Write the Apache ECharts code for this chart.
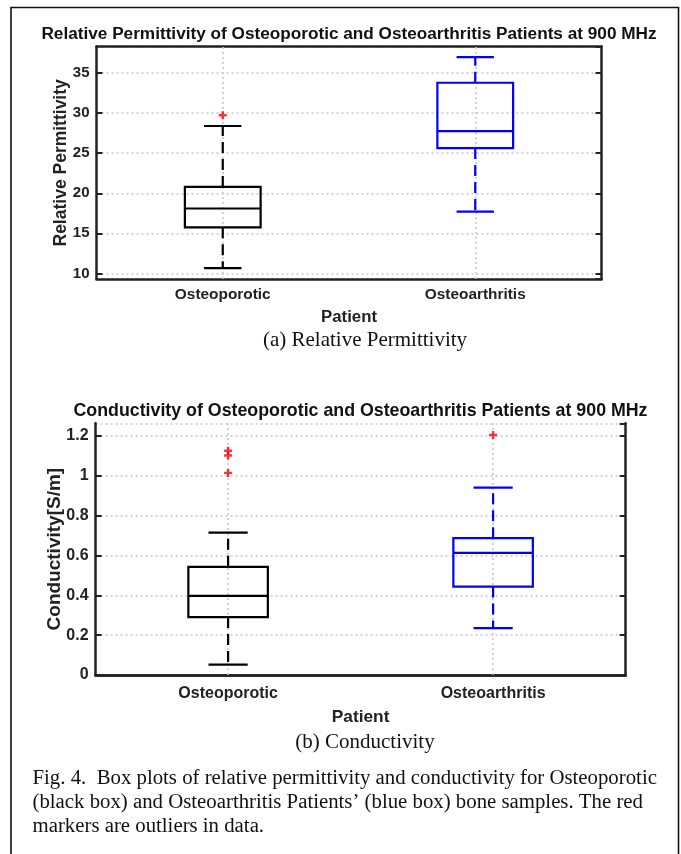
<!DOCTYPE html>
<html>
<head>
<meta charset="utf-8">
<script src="https://cdn.jsdelivr.net/npm/echarts@6/dist/echarts.min.js"></script>
<style>
  html, body { margin: 0; padding: 0; background: #fff; }
  #chart { width: 681px; height: 854px; }
</style>
</head>
<body>
<div id="chart"></div>
<script>
  // data
  const categories = ['Osteoporotic', 'Osteoarthritis'];
  // [lower whisker, Q1, median, Q3, upper whisker]
  const permittivityBoxes = [
    [10.65, 15.75, 18.1, 20.8, 28.4],
    [17.7, 25.65, 27.75, 33.8, 37.0]
  ];
  const permittivityOutliers = [[0, 29.75]];
  const conductivityBoxes = [
    [0.052, 0.291, 0.397, 0.543, 0.715],
    [0.235, 0.444, 0.613, 0.687, 0.941]
  ];
  const conductivityOutliers = [[0, 1.015], [0, 1.102], [0, 1.126], [1, 1.205]];
  const boxColors = ['#000000', '#0000ff'];

  const sans = '"Liberation Sans", Arial, sans-serif';
  const serif = '"Liberation Serif", "Times New Roman", serif';
  const frameColor = '#222';
  const plusPath = 'path://M3.5,0 L6.5,0 L6.5,3.5 L10,3.5 L10,6.5 L6.5,6.5 L6.5,10 L3.5,10 L3.5,6.5 L0,6.5 L0,3.5 L3.5,3.5 Z';

  var mychart = echarts.init(document.getElementById('chart'));

  // draw one box with dashed whiskers
  function renderBox(params, api) {
    const idx = api.value(0);
    const low = api.coord([idx, api.value(1)]);
    const q1 = api.coord([idx, api.value(2)]);
    const med = api.coord([idx, api.value(3)]);
    const q3 = api.coord([idx, api.value(4)]);
    const high = api.coord([idx, api.value(5)]);
    const band = api.size([1, 0])[0];
    const half = band * 0.15;
    const cap = band * 0.074;
    const cx = med[0];
    const color = boxColors[params.dataIndex];
    const solid = { stroke: color, lineWidth: 2.2, fill: null };
    const dashed = { stroke: color, lineWidth: 2.2, lineDash: [11, 6] };
    return {
      type: 'group',
      children: [
        { type: 'line', shape: { x1: cx, y1: q3[1], x2: cx, y2: high[1] }, style: dashed },
        { type: 'line', shape: { x1: cx, y1: q1[1], x2: cx, y2: low[1] }, style: dashed },
        { type: 'line', shape: { x1: cx - cap, y1: high[1], x2: cx + cap, y2: high[1] }, style: solid },
        { type: 'line', shape: { x1: cx - cap, y1: low[1], x2: cx + cap, y2: low[1] }, style: solid },
        { type: 'rect', shape: { x: cx - half, y: q3[1], width: half * 2, height: q1[1] - q3[1] }, style: solid },
        { type: 'line', shape: { x1: cx - half, y1: med[1], x2: cx + half, y2: med[1] }, style: solid }
      ]
    };
  }

  function boxData(boxes) {
    return boxes.map((b, i) => [i].concat(b));
  }

  // f: font sizes for this panel
  function xAxes(gridIndex, f) {
    return [
      {
        type: 'category', gridIndex: gridIndex, data: categories, position: 'bottom',
        name: 'Patient', nameLocation: 'middle', nameGap: f.nameGap, nameMoveOverlap: false,
        nameTextStyle: { color: '#222', fontSize: f.name, fontWeight: 'bold', fontFamily: sans },
        axisLine: { lineStyle: { color: frameColor, width: 2.5 } },
        axisTick: { inside: true, alignWithLabel: true, length: 6, lineStyle: { color: frameColor, width: 2 } },
        axisLabel: { color: '#222', fontSize: f.cat, fontWeight: 'bold', fontFamily: sans, margin: f.catMargin },
        splitLine: { show: false }
      },
      {
        type: 'category', gridIndex: gridIndex, data: categories, position: 'top',
        axisLine: { lineStyle: { color: frameColor, width: 2.5 } },
        axisTick: { inside: true, alignWithLabel: true, length: 6, lineStyle: { color: frameColor, width: 2 } },
        axisLabel: { show: false },
        splitLine: { show: false }
      }
    ];
  }

  function yAxes(gridIndex, name, min, max, extra, f) {
    const left = Object.assign({
      type: 'value', gridIndex: gridIndex, position: 'left', min: min, max: max,
      name: name, nameLocation: 'middle', nameGap: f.yGap, nameRotate: 90, nameMoveOverlap: false,
      nameTextStyle: { color: '#222', fontSize: f.yName, fontWeight: 'bold', fontFamily: sans },
      axisLine: { show: true, lineStyle: { color: frameColor, width: 2.5 } },
      axisTick: { show: true, inside: true, length: 6, lineStyle: { color: frameColor, width: 2 } },
      axisLabel: { color: '#222', fontSize: f.tick, fontWeight: 'bold', fontFamily: sans, margin: 7, showMinLabel: f.showMin, showMaxLabel: false },
      splitLine: { show: true, lineStyle: { color: '#c8c8c8', width: 1.6, type: [2, 3] } }
    }, extra);
    const right = Object.assign({
      type: 'value', gridIndex: gridIndex, position: 'right', min: min, max: max,
      axisLine: { show: true, lineStyle: { color: frameColor, width: 2.5 } },
      axisTick: { show: true, inside: true, length: 6, lineStyle: { color: frameColor, width: 2 } },
      axisLabel: { show: false },
      splitLine: { show: false }
    }, extra);
    return [left, right];
  }

  function centerLines(xIndex, yIndex) {
    return {
      type: 'line', xAxisIndex: xIndex, yAxisIndex: yIndex, data: [], silent: true,
      markLine: {
        silent: true, symbol: 'none', label: { show: false },
        lineStyle: { color: '#c8c8c8', width: 1.6, type: [2, 3] },
        data: categories.map(c => ({ xAxis: c }))
      }
    };
  }

  const topFonts = { cat: 15.4, catMargin: 8, name: 16.8, nameGap: 30, yName: 17.5, yGap: 26, tick: 15, showMin: false };
  const bottomFonts = { cat: 16, catMargin: 10.5, name: 17.3, nameGap: 34, yName: 19, yGap: 31, tick: 16, showMin: true };

  mychart.setOption({
    animation: false,
    backgroundColor: '#fff',
    grid: [
      { left: 96.5, top: 46.7, width: 505, height: 232.3 },
      { left: 95.6, top: 423.3, width: 530, height: 251.7 }
    ],
    xAxis: xAxes(0, topFonts).concat(xAxes(1, bottomFonts)),
    yAxis: yAxes(0, 'Relative Permittivity', 9.3, 38.3, { splitNumber: 5 }, topFonts)
      .concat(yAxes(1, 'Conductivity[S/m]', 0, 1.264, { interval: 0.2 }, bottomFonts)),
    graphic: [
      { type: 'rect', shape: { x: 11, y: 7.5, width: 667.5, height: 870 }, style: { fill: null, stroke: '#111', lineWidth: 1.6 }, z: 100 },
      { type: 'text', x: 349, y: 34, style: { text: 'Relative Permittivity of Osteoporotic and Osteoarthritis Patients at 900 MHz', align: 'center', verticalAlign: 'middle', fill: '#111', font: 'bold 17.2px ' + sans } },
      { type: 'text', x: 360.5, y: 411.5, style: { text: 'Conductivity of Osteoporotic and Osteoarthritis Patients at 900 MHz', align: 'center', verticalAlign: 'middle', fill: '#111', font: 'bold 17.8px ' + sans } },
      { type: 'text', x: 365, y: 340, style: { text: '(a) Relative Permittivity', align: 'center', verticalAlign: 'middle', fill: '#111', font: '21px ' + serif } },
      { type: 'text', x: 365, y: 742, style: { text: '(b) Conductivity', align: 'center', verticalAlign: 'middle', fill: '#111', font: '21px ' + serif } },
      { type: 'text', x: 32.5, y: 767, style: {
        text: 'Fig. 4.  Box plots of relative permittivity and conductivity for Osteoporotic\n(black box) and Osteoarthritis Patients\u2019 (blue box) bone samples. The red\nmarkers are outliers in data.',
        align: 'left', verticalAlign: 'top', lineHeight: 24, fill: '#111', font: '20.8px ' + serif } }
    ],
    series: [
      centerLines(0, 0),
      centerLines(2, 2),
      {
        type: 'custom', xAxisIndex: 0, yAxisIndex: 0, renderItem: renderBox,
        encode: { x: 0, y: [1, 2, 3, 4, 5] }, data: boxData(permittivityBoxes), z: 5
      },
      {
        type: 'custom', xAxisIndex: 2, yAxisIndex: 2, renderItem: renderBox,
        encode: { x: 0, y: [1, 2, 3, 4, 5] }, data: boxData(conductivityBoxes), z: 5
      },
      {
        type: 'scatter', xAxisIndex: 0, yAxisIndex: 0, data: permittivityOutliers,
        symbol: plusPath, symbolSize: 8, itemStyle: { color: '#ff0000' }, z: 6
      },
      {
        type: 'scatter', xAxisIndex: 2, yAxisIndex: 2, data: conductivityOutliers,
        symbol: plusPath, symbolSize: 8, itemStyle: { color: '#ff0000' }, z: 6
      }
    ]
  });

  window.addEventListener('resize', () => {
    mychart.resize();
  });
</script>
</body>
</html>
